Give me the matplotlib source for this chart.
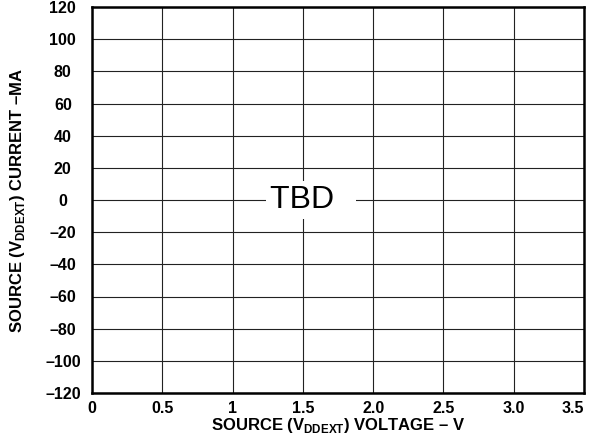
import matplotlib
matplotlib.use("Agg")
import matplotlib.pyplot as plt

plt.rcParams['font.family'] = ['Liberation Sans', 'DejaVu Sans']
plt.rcParams['mathtext.fontset'] = 'custom'
plt.rcParams['mathtext.rm'] = 'Liberation Sans:bold'
plt.rcParams['mathtext.bf'] = 'Liberation Sans:bold'

xticks = [0, 0.5, 1, 1.5, 2.0, 2.5, 3.0, 3.5]
xlabels = ['0', '0.5', '1', '1.5', '2.0', '2.5', '3.0', '3.5']
yticks = [120, 100, 80, 60, 40, 20, 0, -20, -40, -60, -80, -100, -120]
ylabels = ['120', '100', '80', '60', '40', '20', '0', '–20', '–40', '–60',
           '–80', '–100', '–120']

fig = plt.figure(figsize=(5.92, 4.38), dpi=100)
ax = fig.add_axes([92/592, 1-393/438, (584-92)/592, (393-7)/438])
ax.set_xlim(0, 3.5)
ax.set_ylim(-120, 120)
ax.set_xticks(xticks)
ax.set_xticklabels(xlabels, fontweight='bold', fontsize=11.5)
ax.set_yticks(yticks)
ax.set_yticklabels(ylabels, fontweight='bold', fontsize=11.5)
for t in ax.get_yticklabels():
    t.set_ha('center')
# last x label stays inside the figure
ax.get_xticklabels()[-1].set_ha('right')
ax.tick_params(axis='y', length=0, pad=21)
ax.tick_params(axis='x', length=0, pad=6)
ax.grid(True, color='#222222', linewidth=0.8)
for s in ax.spines.values():
    s.set_linewidth(1.8)

ax.set_xlabel(r'SOURCE (V$_{\mathrm{DDEXT}}$) VOLTAGE – V', fontweight='bold',
              fontsize=12, labelpad=0)
ax.set_ylabel(r'SOURCE (V$_{\mathrm{DDEXT}}$) CURRENT –MA', fontweight='bold',
              fontsize=12, labelpad=13)

# placeholder label, white box runs a little past the text on the right
ax.text(1.265, 0, 'TBD  ', fontsize=23, ha='left', va='center',
        bbox=dict(facecolor='white', edgecolor='none', pad=3))

fig.savefig('out.png', dpi=100)
